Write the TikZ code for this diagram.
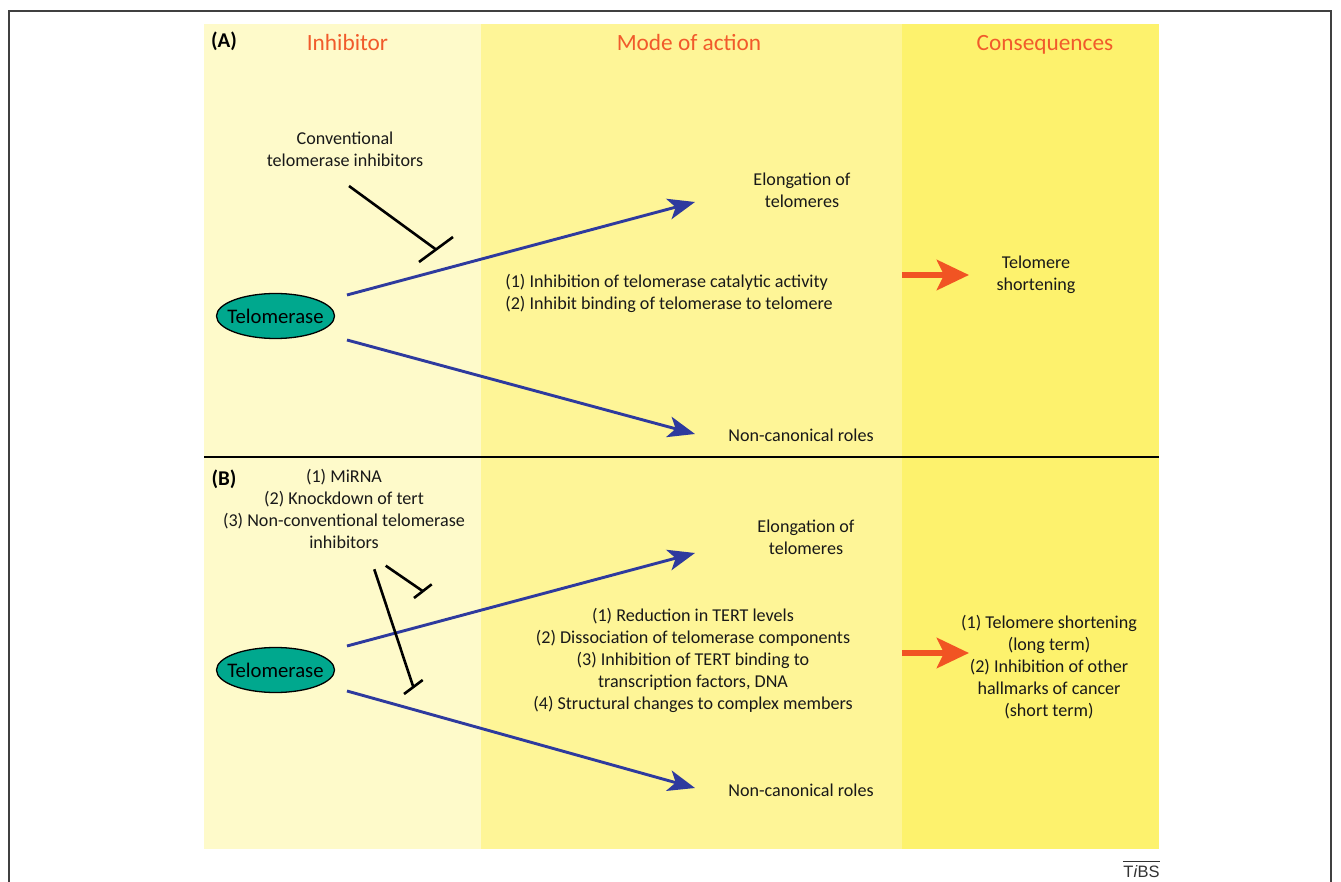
\documentclass[tikz,border=0pt]{standalone}
\usepackage{fontspec}
\setmainfont{Carlito}
\newfontfamily\tibsfont{Liberation Sans}
\usetikzlibrary{arrows.meta,shapes.geometric}
\definecolor{bandA}{HTML}{FEFACA}
\definecolor{bandB}{HTML}{FEF597}
\definecolor{bandC}{HTML}{FDF26D}
\definecolor{heading}{HTML}{F15A2B}
\definecolor{bluearrow}{HTML}{2E3A9E}
\definecolor{redarrow}{HTML}{F15423}
\definecolor{enzymefill}{HTML}{00A88E}
\tikzset{
  lbl/.style={font=\fontsize{18.1}{22}\selectfont,align=center,inner sep=0pt,text=black!90},
  headtxt/.style={font=\fontsize{23.3}{24}\selectfont,text=heading,inner sep=0pt,anchor=base},
  panel/.style={font=\fontsize{21}{22}\selectfont\bfseries,inner sep=0pt,anchor=base},
  enzyme/.style={ellipse,draw=black,line width=1.3pt,fill=enzymefill,minimum width=118pt,minimum height=45pt,inner xsep=-14pt,inner ysep=0pt,font=\fontsize{20.7}{22}\selectfont},
  bluearr/.style={draw=bluearrow,line width=2.9pt,-{Stealth[length=27pt,width=21pt,inset=7pt]}},
  redarr/.style={draw=redarrow,line width=6.5pt,-{Stealth[length=32pt,width=30pt,inset=7pt]}},
  inhib/.style={draw=black,line width=2.6pt},
}
\begin{document}
\begin{tikzpicture}[x=1pt,y=-1pt]
\useasboundingbox (0,0) rectangle (1341,882);
\fill[white] (0,0) rectangle (1341,882);
\fill[bandA] (204,24) rectangle (481,849);
\fill[bandB] (481,24) rectangle (902,849);
\fill[bandC] (902,24) rectangle (1159,849);
\draw[black!75,line width=1.3pt] (9,882) -- (9,11) -- (1331,11) -- (1331,882);
\draw[black,line width=1.6pt] (204,457) -- (1159,457);
% headings
\node[panel] (pa) at (224,48) {(A)};
\node[panel] (pb) at (224,485) {(B)};
\node[headtxt] (h1) at (347.5,51) {Inhibitor};
\node[headtxt] (h2) at (689,51) {Mode of action};
\node[headtxt] (h3) at (1045,51) {Consequences};
% panel A
\node[lbl] (a1) at (345,149.5) {Conventional\\telomerase inhibitors};
\node[enzyme] (ea) at (275.5,316) {Telomerase};
\node[lbl] (a2) at (802,190) {Elongation of\\telomeres};
\node[lbl,align=left] (a3) at (669,293.5) {(1) Inhibition of telomerase catalytic activity\\(2) Inhibit binding of telomerase to telomere};
\node[lbl] (a4) at (801,435.5) {Non-canonical roles};
\node[lbl] (a5) at (1036,275) {Telomere\\shortening};
% panel B
\node[lbl] (b1) at (344,508.5) {(1) MiRNA\\(2) Knockdown of tert\\(3) Non-conventional telomerase\\inhibitors};
\node[enzyme] (eb) at (275.5,670) {Telomerase};
\node[lbl] (b2) at (806,537.5) {Elongation of\\telomeres};
\node[lbl] (b3) at (693,660.5) {(1) Reduction in TERT levels\\(2) Dissociation of telomerase components\\(3) Inhibition of TERT binding to\\transcription factors, DNA\\(4) Structural changes to complex members};
\node[lbl] (b4) at (801,790.5) {Non-canonical roles};
\node[lbl] (b5) at (1049,667) {(1) Telomere shortening\\(long term)\\(2) Inhibition of other\\hallmarks of cancer\\(short term)};
\node[font=\fontsize{16.5}{18}\selectfont\tibsfont,text=black!80,inner sep=0pt] (tibs) at (1141.5,871.5) {T\textit{i}BS};
\draw[black!80,line width=0.8pt] (tibs.north west |- 0,861) -- (tibs.north east |- 0,861);
% connector ends
\coordinate (as) at (347,295); \coordinate (at) at (695,202);
\coordinate (cs) at (347,340); \coordinate (ct) at (695,434);
\coordinate (bs) at (347,646); \coordinate (bt) at (695,553);
\coordinate (ds) at (347,691); \coordinate (dt) at (695,788);
\coordinate (ra1) at (902,275); \coordinate (ra2) at (969,275);
\coordinate (rb1) at (902,653); \coordinate (rb2) at (969,653);
\path[bluearr] (as) -- (at);
\path[bluearr] (cs) -- (ct);
\path[bluearr] (bs) -- (bt);
\path[bluearr] (ds) -- (dt);
\path[redarr] (ra1) -- (ra2);
\path[redarr] (rb1) -- (rb2);
% inhibitors
\coordinate (i1) at (349,186); \coordinate (i1e) at (436,249.5);
\coordinate (i1a) at (419,262); \coordinate (i1b) at (453,237);
\draw[inhib] (i1) -- (i1e); \draw[inhib] (i1a) -- (i1b);
\coordinate (i2) at (385.7,565.7); \coordinate (i2e) at (423,591.3);
\coordinate (i2a) at (414,598); \coordinate (i2b) at (431.7,584.3);
\draw[inhib] (i2) -- (i2e); \draw[inhib] (i2a) -- (i2b);
\coordinate (i3) at (374.3,569.3); \coordinate (i3e) at (413.3,687);
\coordinate (i3a) at (404,694); \coordinate (i3b) at (422.7,680);
\draw[inhib] (i3) -- (i3e); \draw[inhib] (i3a) -- (i3b);
\end{tikzpicture}
\end{document}
